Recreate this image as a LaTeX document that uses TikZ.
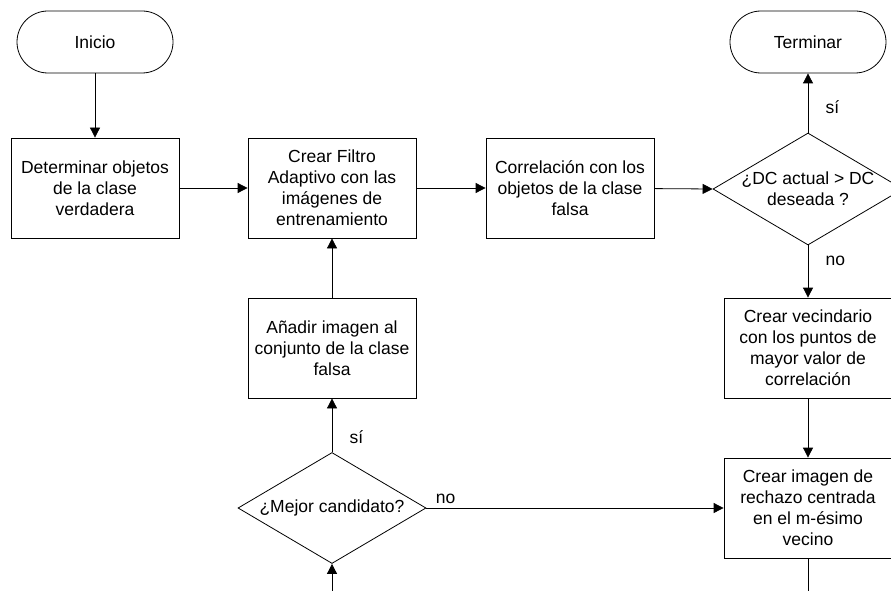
\documentclass[tikz,border=0pt]{standalone}
\usepackage{fontspec}
\setmainfont{Liberation Sans}
\usetikzlibrary{shapes.geometric,arrows.meta,positioning}

\tikzset{
    every node/.style={font=\fontsize{17.5pt}{21pt}\selectfont},
    terminal/.style={draw, rectangle, rounded corners=31pt, minimum width=156pt, minimum height=62pt, inner sep=0pt},
    process/.style={draw, rectangle, minimum width=168pt, minimum height=100pt, inner sep=0pt, align=center},
    decision/.style={draw, diamond, minimum width=190pt, minimum height=112pt, inner sep=0pt},
    flow/.style={-{Triangle[length=10pt,width=10pt]}, line width=0.8pt},
    plain/.style={line width=0.8pt}
}

\begin{document}
\begin{tikzpicture}[x=1pt, y=-1pt, line width=0.8pt]
    \useasboundingbox (0,0) rectangle (891,591);
    % Terminals
    \node[terminal] (inicio) at (95,42) {Inicio};
    \node[terminal] (terminar) at (808,42) {Terminar};
    % Top row
    \node[process] (verdadera) at (95,188) {Determinar objetos\\de la clase\\verdadera};
    \node[process] (filtro) at (332,188) {Crear Filtro\\Adaptivo con las\\imágenes de\\entrenamiento};
    \node[process] (correlacion) at (570,188) {Correlación con los\\objetos de la clase\\falsa};
    \node[decision] (dc) at (808,189) {};
    \node[align=center] (dctext) at (dc) {¿DC actual > DC\\deseada ?};
    % Right column
    \node[process] (vecindario) at (808,348) {Crear vecindario\\con los puntos de\\mayor valor de\\correlación};
    \node[process] (rechazo) at (808,508) {Crear imagen de\\rechazo centrada\\en el m-ésimo\\vecino};
    % Middle column
    \node[process] (anadir) at (332,348) {Añadir imagen al\\conjunto de la clase\\falsa};
    \node[decision, minimum width=188pt, minimum height=111pt] (mejor) at (332,508) {};
    \node (mejortext) at (mejor) {¿Mejor candidato?};
    % Loose ends at the bottom
    \coordinate (salida) at (808,600);
    \coordinate (entrada) at (332,600);

    % Connectors
    \draw[flow] (inicio) -- (verdadera);
    \draw[flow] (verdadera) -- (filtro);
    \draw[flow] (filtro) -- (correlacion);
    \draw[flow] (correlacion) -- (dc.west);
    \draw[flow] (dc.north) -- node[pos=0.43, right=14pt] {sí} (terminar);
    \draw[flow] (dc.south) -- node[pos=0.29, right=14pt] {no} (vecindario);
    \draw[flow] (vecindario) -- (rechazo);
    \draw[plain] (rechazo) -- (salida);
    \draw[flow] (entrada) -- (mejor.south);
    \draw[flow] (mejor.east) -- node[pos=0.065, above=1pt] {no} (rechazo.west);
    \draw[flow] (mejor.north) -- node[pos=0.28, right=14pt] {sí} (anadir);
    \draw[flow] (anadir) -- (filtro);
\end{tikzpicture}
\end{document}
